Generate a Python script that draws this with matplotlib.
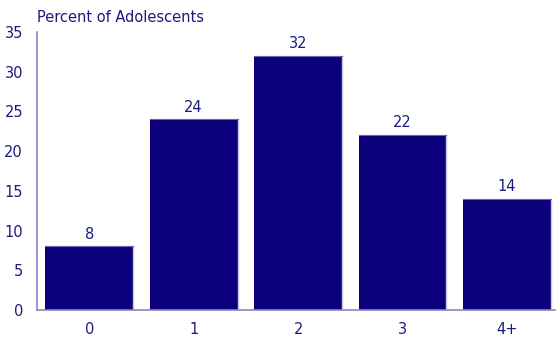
import matplotlib
matplotlib.use("Agg")
import matplotlib.pyplot as plt

categories = ["0", "1", "2", "3", "4+"]
values = [8, 24, 32, 22, 14]
yticks = [0, 5, 10, 15, 20, 25, 30, 35]

bar_color = "#0d007d"
text_color = "#1c1c7c"
spine_color = "#8a86c0"

fig = plt.figure(figsize=(5.57, 3.37), dpi=100)
ax = fig.add_axes([37/557, 1-310/337, (555-37)/557, (310-32)/337])

x = list(range(len(categories)))
bars = ax.bar(x, values, width=0.84, color=bar_color, edgecolor="none")
for b in bars:
    ax.plot([b.get_x()+b.get_width(), b.get_x()+b.get_width()], [0, b.get_height()],
            color="#c8c6e6", lw=1)
    ax.plot([b.get_x(), b.get_x()+b.get_width()], [b.get_height(), b.get_height()],
            color="#6a66b0", lw=0.8)
for xi, v in zip(x, values):
    ax.text(xi, v + 0.6, str(v), ha="center", va="bottom", fontsize=10.5, color=text_color)

ax.set_xlim(-0.5, 4.46)
ax.set_ylim(0, 35)
ax.set_yticks(yticks)
ax.set_xticks(x)
ax.set_xticklabels(categories)
ax.tick_params(axis="both", length=0, labelsize=10.5, labelcolor=text_color)
ax.tick_params(axis="x", pad=9)
ax.tick_params(axis="y", pad=10)
for s in ["top", "right"]:
    ax.spines[s].set_visible(False)
for s in ["left", "bottom"]:
    ax.spines[s].set_color(spine_color)
    ax.spines[s].set_linewidth(1.2)

fig.text(37/557, 1-18/337, "Percent of Adolescents", ha="left", va="center",
         fontsize=10.5, color=text_color)

fig.savefig("out.png", dpi=100)
